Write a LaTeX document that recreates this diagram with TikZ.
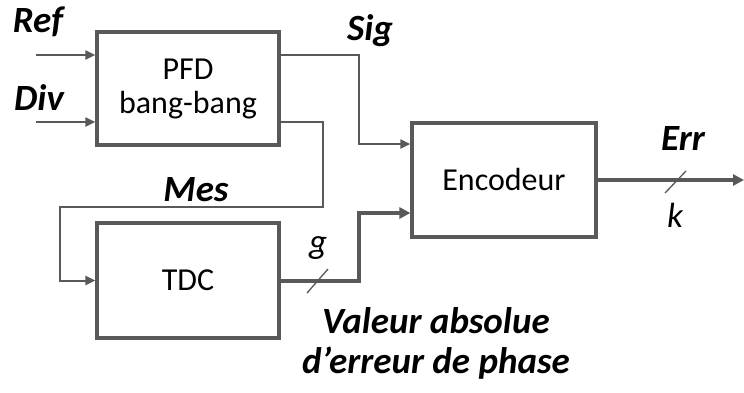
\documentclass[tikz,border=0pt]{standalone}
\usepackage{fontspec}
\setmainfont{Carlito}
\usetikzlibrary{arrows.meta}
\definecolor{lc}{HTML}{595959}
\begin{document}
\begin{tikzpicture}[x=1pt,y=-1pt,
  blk/.style={draw=lc,line width=3.2pt,fill=white,rectangle,align=center,
    font=\fontsize{32}{34}\selectfont,inner sep=0pt},
  thinw/.style={draw=lc,line width=2pt,-{Triangle[length=10pt,width=9pt]}},
  bus/.style={draw=lc,line width=4pt,-{Triangle[length=11pt,width=11pt]}},
  tick/.style={draw=lc,line width=1.3pt},
  lab/.style={font=\fontsize{37}{40}\selectfont\bfseries\itshape,inner sep=0pt,anchor=base,align=center},
  sym/.style={font=\fontsize{35}{40}\selectfont\itshape,inner sep=0pt,anchor=base}]
\useasboundingbox (0,0) rectangle (744,392);
\node[blk,minimum width=182pt,minimum height=113pt] (pfd) at (188,88.5) {PFD\\bang-bang};
\node[blk,minimum width=182pt,minimum height=115pt] (tdc) at (188,280.5) {TDC};
\node[blk,minimum width=184pt,minimum height=114pt] (enc) at (504,180) {Encodeur};
\coordinate (refin) at (36,55);
\coordinate (divin) at (36,122);
\coordinate (errout) at (744,180);
\draw[thinw] (refin) -- (refin -| pfd.west);
\draw[thinw] (divin) -- (divin -| pfd.west);
\draw[thinw] (refin -| pfd.east) -| (359,144) -- (enc.west |- 0,144);
\draw[thinw] (divin -| pfd.east) -- (323,122) -- (323,207) -- (60,207) |- (tdc.west);
\draw[bus] (tdc.east) -| (359,213) -- (enc.west |- 0,213);
\draw[bus] (enc.east) -- (errout);
\draw[tick] (307,293) -- (328,269);
\draw[tick] (665,193) -- (686,171);
\node[lab] (lref) at (38,32) {Ref};
\node[lab] (ldiv) at (39,110) {Div};
\node[lab] (lsig) at (370,40) {Sig};
\node[lab] (lmes) at (196,201) {Mes};
\node[lab] (lerr) at (683,150) {Err};
\node[sym] (lk) at (675,227) {k};
\node[sym] (lg) at (318,253) {g};
\node[lab] (lval) at (436,333) {Valeur absolue};
\node[lab] (lphase) at (436,373) {d’erreur de phase};
\end{tikzpicture}
\end{document}
